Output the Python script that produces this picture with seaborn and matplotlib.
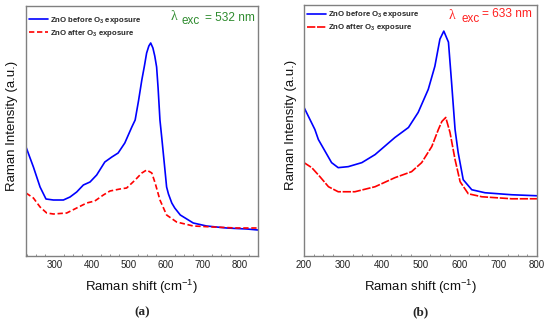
import numpy as np
import pandas as pd
import matplotlib
matplotlib.use("Agg")
import matplotlib.pyplot as plt
import seaborn as sns
from matplotlib.ticker import MultipleLocator

# ---------------- data ----------------
# Panel (a): 532 nm excitation
a_before_shift = [223, 243, 261, 277, 297, 324, 342, 360, 378, 396, 414, 436, 455, 472, 490,
                  509, 518, 527, 536, 543, 549, 555, 560, 566, 571, 576, 580, 585, 590, 594,
                  598, 603, 608, 617, 625, 640, 675, 711, 765, 820, 850]
a_before_int = [109, 89, 69, 57, 56, 56, 59, 64, 71, 74, 81, 94, 99, 103, 113,
                129, 136, 155, 176, 190, 203, 210, 213, 208, 200, 189, 168, 136, 118, 103,
                88, 69, 62, 53, 48, 41, 33, 30, 28, 27, 26]
a_after_shift = [223, 243, 261, 279, 297, 333, 360, 387, 409, 432, 450, 477, 495, 518, 536,
                 549, 563, 572, 585, 603, 630, 675, 729, 792, 850]
a_after_int = [63, 58, 49, 43, 42, 43, 48, 53, 55, 61, 65, 67, 68, 76, 83,
               86, 83, 73, 56, 41, 34, 30, 29, 28, 28]

# Panel (b): 633 nm excitation
b_before_shift = [200, 228, 237, 271, 288, 314, 349, 383, 434, 469, 494, 520, 537, 550, 560,
                  572, 580, 589, 597, 610, 632, 666, 735, 800]
b_before_int = [148, 126, 116, 93, 88, 89, 93, 101, 118, 128, 143, 166, 189, 216, 224,
                213, 173, 126, 103, 76, 66, 63, 61, 60]
b_after_shift = [200, 220, 241, 263, 288, 331, 383, 434, 477, 503, 529, 546, 555, 565, 576,
                 589, 602, 623, 658, 735, 800]
b_after_int = [93, 88, 79, 69, 64, 64, 69, 78, 84, 93, 109, 126, 134, 138, 123,
               96, 74, 62, 59, 57, 57]

series_labels = ["ZnO before O$_\\mathbf{3}$ exposure", "ZnO after O$_\\mathbf{3}$ exposure"]
panel_tags = ["(a)", "(b)"]
exc_values = ["= 532 nm", "= 633 nm"]
x_limits = [(223, 850), (200, 800)]
x_ticks = [[300, 400, 500, 600, 700, 800], [200, 300, 400, 500, 600, 700, 800]]

# ---------------- style ----------------
sns.set_style("white")
plt.rcParams["font.family"] = ["Liberation Sans", "DejaVu Sans"]
plt.rcParams["mathtext.fontset"] = "custom"
plt.rcParams["mathtext.rm"] = "Liberation Sans"
plt.rcParams["mathtext.it"] = "Liberation Sans:italic"
plt.rcParams["mathtext.bf"] = "Liberation Sans:bold"

fig = plt.figure(figsize=(5.5, 3.22), dpi=100)
ax_a = fig.add_axes([26 / 550, 1 - 256 / 322, 232 / 550, 250 / 322])
ax_b = fig.add_axes([304 / 550, 1 - 256 / 322, 233 / 550, 251 / 322])

panels = [
    (ax_a, a_before_shift, a_before_int, a_after_shift, a_after_int, "#2e8b2e",
     (0.622, 0.944), (0.672, 0.930), (0.772, 0.940), (0.0, 0.978), (3.2, 1.6)),
    (ax_b, b_before_shift, b_before_int, b_after_shift, b_after_int, "#ff2020",
     (0.619, 0.944), (0.674, 0.934), (0.764, 0.952), (0.0, 0.995), (5, 1)),
]

gray = "#808080"
for i, (ax, bx, by, ax_, ay, exc_col, lam_pos, sub_pos, eq_pos, leg_anchor, dash) in enumerate(panels):
    df_b = pd.DataFrame({"shift": bx, "intensity": by})
    df_a = pd.DataFrame({"shift": ax_, "intensity": ay})
    sns.lineplot(data=df_b, x="shift", y="intensity", ax=ax, color="#0000ff",
                 linewidth=1.2, label=series_labels[0])
    sns.lineplot(data=df_a, x="shift", y="intensity", ax=ax, color="#ff0000",
                 linewidth=1.2, label=series_labels[1])
    ax.lines[1].set_dashes(dash)

    ax.set_xlim(*x_limits[i])
    ax.set_ylim(0, 250)
    ax.set_xticks(x_ticks[i])
    ax.xaxis.set_minor_locator(MultipleLocator(25))
    ax.set_yticks([])
    ax.tick_params(axis="x", which="major", direction="in", length=3, width=0.7,
                   color=gray, labelsize=7, pad=3, labelcolor="#222222")
    ax.tick_params(axis="x", which="minor", direction="in", length=1.6, width=0.6,
                   color=gray, bottom=True)
    for s in ax.spines.values():
        s.set_visible(True)
        s.set_color(gray)
        s.set_linewidth(1.0)

    ax.set_xlabel("Raman shift (cm$^{-1}$)", fontsize=9.5, color="#111111")
    ax.xaxis.set_label_coords(0.5, -0.088)
    ax.set_ylabel("Raman Intensity (a.u.)", fontsize=9.5, color="#111111")
    ax.yaxis.set_label_coords(-0.034 if i == 0 else -0.030, 0.522)

    leg = ax.legend(loc="upper left", bbox_to_anchor=leg_anchor, frameon=False,
                    handlelength=2.4, handletextpad=0.35,
                    labelspacing=0.25, borderaxespad=0.2, borderpad=0.2,
                    prop={"weight": "bold", "size": 5.6})

    ax.text(*lam_pos, "λ", transform=ax.transAxes, color=exc_col, fontsize=10,
            family=["Liberation Serif", "DejaVu Serif"], ha="left", va="baseline")
    ax.text(*sub_pos, "exc", transform=ax.transAxes, color=exc_col, fontsize=8.4,
            ha="left", va="baseline")
    ax.text(*eq_pos, exc_values[i], transform=ax.transAxes, color=exc_col, fontsize=8.6,
            ha="left", va="baseline")

    ax.text(0.5, -0.2, panel_tags[i], transform=ax.transAxes, fontsize=9.5,
            fontweight="bold", family=["Liberation Serif", "DejaVu Serif"],
            ha="center", va="top")

fig.savefig("out.png", dpi=100)
